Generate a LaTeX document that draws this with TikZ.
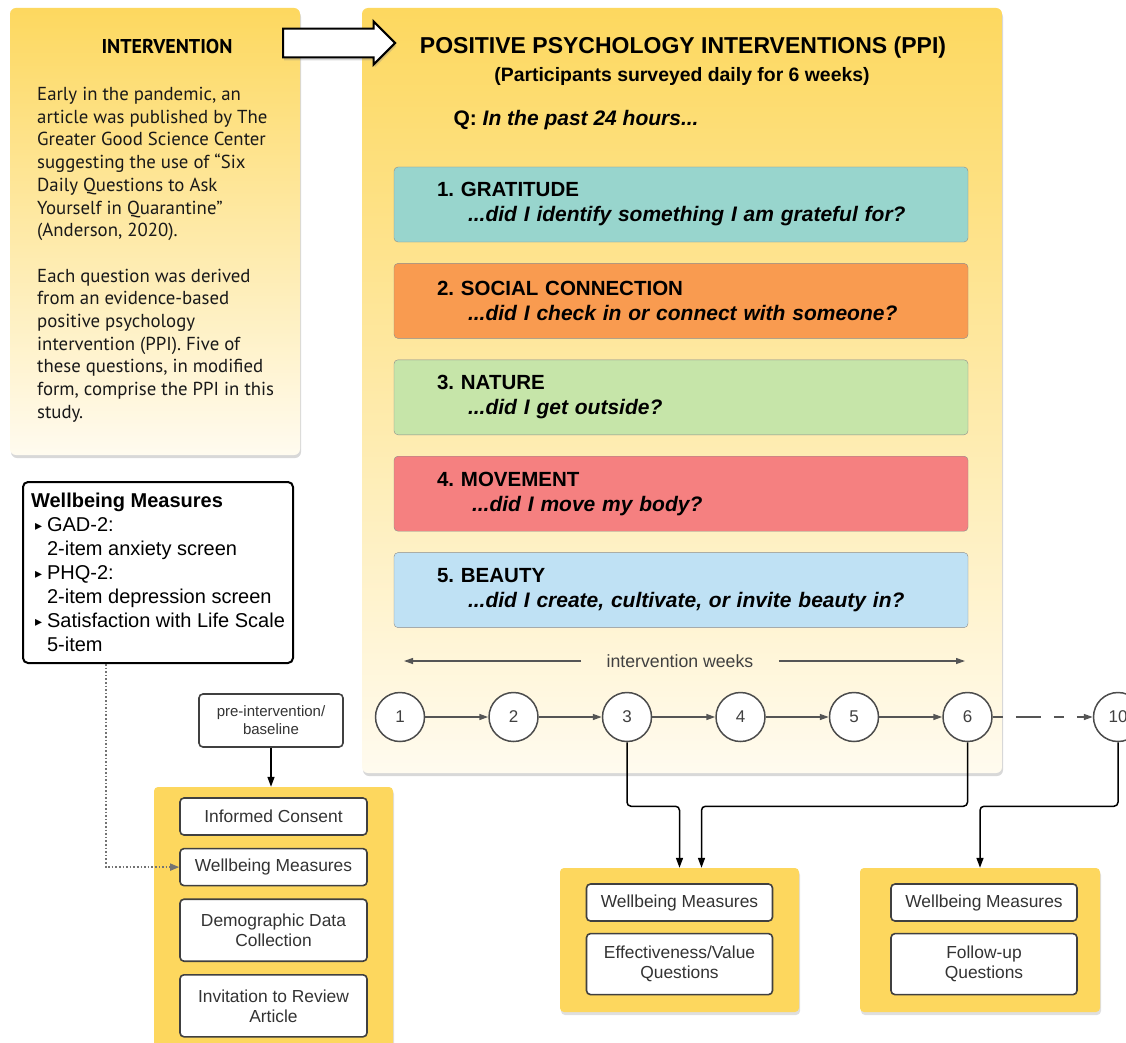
\documentclass[tikz,border=0pt]{standalone}
\usepackage{fontspec}
\setmainfont{Liberation Sans}
\newfontfamily\introfont{PT Sans}
\newfontfamily\symfont{DejaVu Sans}
\usepackage{xcolor}
\usepackage{tikz}
\usetikzlibrary{arrows.meta, positioning, calc, shapes.arrows, shadows}
\definecolor{cardyellow}{HTML}{FDD85F}
\definecolor{cardcream}{HTML}{FFFBEF}
\definecolor{sheetyellow}{HTML}{FDD75E}
\definecolor{gratteal}{HTML}{98D5CD}
\definecolor{socorange}{HTML}{F99B50}
\definecolor{natgreen}{HTML}{C6E5A9}
\definecolor{movered}{HTML}{F58080}
\definecolor{beautyblue}{HTML}{BFE1F4}
\definecolor{linegray}{HTML}{555555}
\newcommand{\bul}{\makebox[16pt][l]{\hspace{4pt}\raisebox{1.5pt}{\symfont\fontsize{14}{14}\selectfont ▸}}}
\frenchspacing

\begin{document}
\begin{tikzpicture}[x=1pt, y=-1pt,
    card/.style={rounded corners=6pt, inner sep=0pt,
                 drop shadow={opacity=0.3, shadow xshift=1pt, shadow yshift=-3pt}},
    sheet/.style={fill=sheetyellow, rounded corners=4pt, inner sep=0pt,
                  drop shadow={opacity=0.25, shadow xshift=1pt, shadow yshift=-3pt}},
    item/.style={draw=black!75, line width=1.6pt, fill=white, rounded corners=4pt,
                 minimum width=187pt, align=center, text=black!80,
                 font=\fontsize{17.4}{20}\selectfont},
    ppibox/.style={draw=black!45, rounded corners=4pt, minimum width=574pt, minimum height=75pt,
                   text width=488pt, align=left, font=\fontsize{20.5}{25}\selectfont\bfseries},
    week/.style={circle, draw=black!70, line width=1.5pt, fill=white, minimum size=49pt,
                 inner sep=0pt, text=black!75, font=\fontsize{17}{20}\selectfont},
    warr/.style={-{Triangle[length=9pt, width=6pt]}, draw=linegray, line width=1.5pt},
    conn/.style={-{Triangle[length=10pt, width=7pt]}, line width=1.5pt, rounded corners=4pt},
    dotconn/.style={-{Triangle[length=9pt, width=7pt]}, dotted, line width=1.6pt, draw=black!55},
  ]

  \fill[white] (0,0) rectangle (1126,1043);
  \useasboundingbox (0,0) rectangle (1126,1043);

  % Intervention card
  \node[card, top color=cardyellow, middle color=cardyellow!80!white, bottom color=cardcream,
        minimum width=290pt, minimum height=447pt] (introcard) at (155,231.5) {};
  \node[font=\introfont\bfseries\fontsize{20}{24}\selectfont] (introhead) at (167,47) {INTERVENTION};
  \node[anchor=north west, inner sep=0pt, align=left, text=black!90,
        font=\introfont\fontsize{18.8}{22.7}\selectfont] (introbody) at (37,87)
    {Early in the pandemic, an\\article was published by The\\Greater Good Science Center\\
     suggesting the use of “Six\\Daily Questions to Ask\\Yourself in Quarantine”\\
     (Anderson, 2020).\\[22.7pt]
     Each question was derived\\from an evidence-based\\positive psychology\\
     intervention (PPI). Five of\\these questions, in modified\\form, comprise the PPI in this\\study.};

  % PPI card
  \node[card, top color=cardyellow, middle color=cardyellow!45!cardcream, bottom color=cardcream,
        minimum width=640pt, minimum height=765pt] (ppicard) at (682,390.5) {};
  \node[single arrow, draw=black, line width=2.2pt, fill=white, minimum height=112pt,
        minimum width=43pt, single arrow head extend=7pt, inner xsep=0pt, inner ysep=13pt,
        anchor=tail, drop shadow={opacity=0.3, shadow xshift=1pt, shadow yshift=-3pt}]
    (introarrow) at (282,43) {};

  \node[font=\fontsize{23}{27}\selectfont\bfseries] (ppihead) at (683,48)
    {POSITIVE PSYCHOLOGY INTERVENTIONS (PPI)};
  \node[font=\fontsize{19.4}{23}\selectfont\bfseries] (ppisub) at (682,76)
    {(Participants surveyed daily for 6 weeks)};
  \node[anchor=west, font=\fontsize{21}{25}\selectfont\bfseries] (ppiq) at (450,120)
    {Q: \textit{In the past 24 hours...}};

  % Five questions
  \node[ppibox, fill=gratteal] (grat) at (681,204.5)
    {1. GRATITUDE\\\hspace*{31pt}{\fontsize{21}{25}\selectfont\itshape ...did I identify something I am grateful for?}};
  \node[ppibox, fill=socorange, below=21pt of grat] (social)
    {2. SOCIAL CONNECTION\\\hspace*{31pt}{\fontsize{21}{25}\selectfont\itshape ...did I check in or connect with someone?}};
  \node[ppibox, fill=natgreen, below=21pt of social] (nature)
    {3. NATURE\\\hspace*{31pt}{\fontsize{21}{25}\selectfont\itshape ...did I get outside?}};
  \node[ppibox, fill=movered, below=21pt of nature] (move)
    {4. MOVEMENT\\\hspace*{35pt}{\fontsize{21}{25}\selectfont\itshape ...did I move my body?}};
  \node[ppibox, fill=beautyblue, below=21pt of move] (beauty)
    {5. BEAUTY\\\hspace*{31pt}{\fontsize{21}{25}\selectfont\itshape ...did I create, cultivate, or invite beauty in?}};

  % Weeks
  \node[text=black!75, font=\fontsize{17.7}{20}\selectfont] (weeks) at (680,661) {intervention weeks};
  \coordinate (wkl) at (404,661);
  \coordinate (wkr) at (965,661);
  \draw[warr, line width=1.2pt] ([xshift=-22pt]weeks.west) -- (wkl);
  \draw[warr, line width=1.2pt] ([xshift=22pt]weeks.east) -- (wkr);

  \node[week] (w1) at (400,717) {1};
  \node[week, right=63pt of w1] (w2) {2};
  \node[week, right=63pt of w2] (w3) {3};
  \node[week, right=63pt of w3] (w4) {4};
  \node[week, right=63pt of w4] (w5) {5};
  \node[week, right=63pt of w5] (w6) {6};
  \node[week, right=100pt of w6] (w10) {10};

  \draw[warr] (w1) -- (w2);
  \draw[warr] (w2) -- (w3);
  \draw[warr] (w3) -- (w4);
  \draw[warr] (w4) -- (w5);
  \draw[warr] (w5) -- (w6);
  \draw[warr, dash pattern=on 10pt off 13pt on 25pt off 13pt] (w6) -- (w10);

  % Wellbeing measures list
  \node[draw=black, line width=2pt, rounded corners=5pt, fill=white, anchor=north west,
        minimum width=270pt, minimum height=181pt, inner xsep=8pt,
        align=left, font=\fontsize{20}{24}\selectfont] (meas) at (22,481)
    {\textbf{Wellbeing Measures}\\
     \bul GAD-2:\\\hspace*{16pt}2-item anxiety screen\\
     \bul PHQ-2:\\\hspace*{16pt}2-item depression screen\\
     \bul Satisfaction with Life Scale\\\hspace*{16pt}5-item};

  % Baseline
  \node[item, font=\fontsize{15}{18}\selectfont, minimum width=144pt, minimum height=53pt] (pre) at (271,720.5)
    {pre-intervention/\\baseline};
  \node[sheet, minimum width=239pt, minimum height=268pt] (lsheet) at (273.5,921) {};
  \node[item, minimum height=37pt] (consent) at (273.5,816.5) {Informed Consent};
  \node[item, minimum height=37pt, below=12pt of consent] (pwell) {Wellbeing Measures};
  \node[item, minimum height=62pt, below=12pt of pwell] (demo) {Demographic Data\\Collection};
  \node[item, minimum height=62pt, below=12pt of demo] (invite) {Invitation to Review\\Article};

  % Week 3 and 6
  \node[sheet, minimum width=239pt, minimum height=144pt] (msheet) at (679.5,940) {};
  \node[item, minimum width=186pt, minimum height=37pt] (mwell) at (679.5,902.5) {Wellbeing Measures};
  \node[item, minimum width=186pt, minimum height=61pt, below=11pt of mwell] (effect)
    {Effectiveness/Value\\Questions};

  % Week 10
  \node[sheet, minimum width=240pt, minimum height=144pt] (rsheet) at (980,940) {};
  \node[item, minimum width=186pt, minimum height=37pt] (rwell) at (984,902.5) {Wellbeing Measures};
  \node[item, minimum width=186pt, minimum height=61pt, below=11pt of rwell] (follow)
    {Follow-up\\Questions};

  % Arrows
  \draw[dotconn] ([xshift=-52pt]meas.south) |- (pwell.west);
  \draw[conn] (pre) -- (pre.south |- lsheet.north);
  \draw[conn] (w3.south) -- ++(0,64) -| (msheet.north);
  \draw[conn] (w6.south) -- ++(0,64) -| ([xshift=22pt]msheet.north);
  \draw[conn] (w10.south) -- ++(0,64) -| (rsheet.north);

\end{tikzpicture}
\end{document}
